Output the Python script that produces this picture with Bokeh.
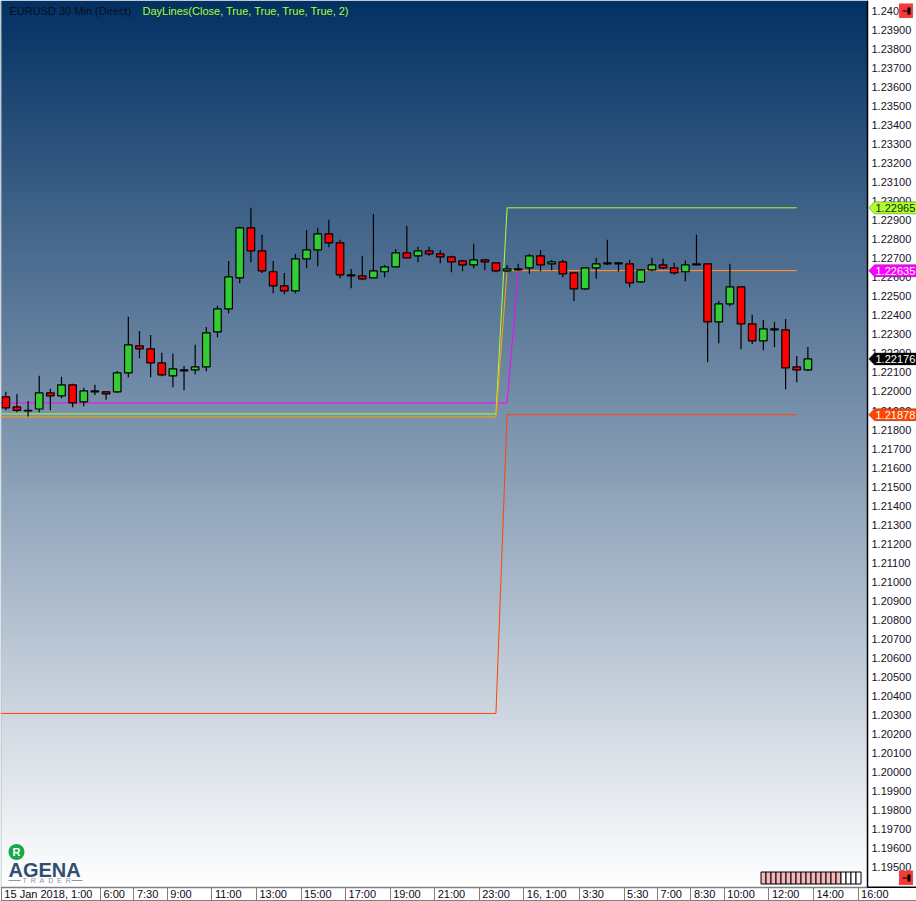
import numpy as np
from bokeh.plotting import figure
from bokeh.embed import file_html
from bokeh.resources import INLINE
from bokeh.models import (Label, BoxAnnotation, PolyAnnotation, FixedTicker, LinearAxis,
                          NumeralTickFormatter, Range1d)

FONT = "Liberation Sans"

high = [1.21998,1.21987,1.21950,1.22082,1.22014,1.22077,1.22040,1.22019,1.22035,1.22003,
        1.22108,1.22392,1.22318,1.22297,1.22203,1.22198,1.22134,1.22245,1.22339,1.22450,
        1.22686,1.22867,1.22965,1.22823,1.22686,1.22623,1.22723,1.22849,1.22860,1.22902,
        1.22797,1.22643,1.22713,1.22933,1.22665,1.22749,1.22870,1.22760,1.22760,1.22742,
        1.22713,1.22692,1.22776,1.22692,1.22676,1.22665,1.22671,1.22723,1.22744,1.22692,
        1.22692,1.22623,1.22650,1.22702,1.22797,1.22679,1.22692,1.22643,1.22702,1.22697,
        1.22676,1.22688,1.22823,1.22671,1.22476,1.22671,1.22550,1.22403,1.22376,1.22366,
        1.22381,1.22187,1.22234]
low = [1.21901,1.21891,1.21868,1.21891,1.21901,1.21965,1.21917,1.21922,1.21982,1.21956,
       1.21993,1.22075,1.22175,1.22075,1.22080,1.22022,1.22007,1.22091,1.22106,1.22285,
       1.22411,1.22569,1.22679,1.22623,1.22516,1.22511,1.22516,1.22648,1.22658,1.22758,
       1.22595,1.22543,1.22585,1.22595,1.22600,1.22653,1.22700,1.22679,1.22713,1.22674,
       1.22627,1.22632,1.22648,1.22637,1.22627,1.22627,1.22634,1.22618,1.22632,1.22637,
       1.22600,1.22476,1.22534,1.22592,1.22665,1.22630,1.22548,1.22571,1.22632,1.22643,
       1.22613,1.22579,1.22664,1.22154,1.22254,1.22448,1.22222,1.22250,1.22217,1.22233,
       1.22012,1.22049,1.22108]
opens = [1.21972,1.21919,1.21898,1.21908,1.21993,1.21977,1.22035,1.21945,1.21998,1.21998,
         1.21998,1.22098,1.22240,1.22224,1.22150,1.22082,1.22108,1.22113,1.22129,1.22313,
         1.22434,1.22597,1.22860,1.22739,1.22629,1.22555,1.22529,1.22697,1.22744,1.22828,
         1.22781,1.22607,1.22607,1.22597,1.22629,1.22655,1.22728,1.22713,1.22739,1.22723,
         1.22707,1.22686,1.22665,1.22692,1.22676,1.22634,1.22639,1.22650,1.22713,1.22671,
         1.22681,1.22623,1.22539,1.22650,1.22671,1.22671,1.22671,1.22576,1.22639,1.22665,
         1.22650,1.22629,1.22665,1.22671,1.22366,1.22460,1.22550,1.22355,1.22266,1.22324,
         1.22324,1.22129,1.22113]
closes = [1.21914,1.21901,1.21901,1.21993,1.21977,1.22035,1.21940,1.22003,1.22003,1.21987,
          1.22098,1.22245,1.22224,1.22150,1.22087,1.22119,1.22113,1.22129,1.22308,1.22434,
          1.22602,1.22860,1.22739,1.22634,1.22555,1.22529,1.22697,1.22744,1.22828,1.22781,
          1.22613,1.22613,1.22592,1.22634,1.22655,1.22728,1.22702,1.22739,1.22723,1.22707,
          1.22681,1.22665,1.22692,1.22681,1.22634,1.22644,1.22644,1.22713,1.22665,1.22681,
          1.22618,1.22539,1.22650,1.22671,1.22676,1.22676,1.22571,1.22639,1.22665,1.22650,
          1.22623,1.22665,1.22671,1.22366,1.22460,1.22550,1.22355,1.22266,1.22329,1.22329,
          1.22124,1.22113,1.22171]

hi_x = [-1, 44, 45, 71]
hi_y = [1.21882, 1.21882, 1.22965, 1.22965]
lo_x = [-1, 44, 45, 71]
lo_y = [1.20308, 1.20308, 1.21878, 1.21878]
mid_x = [-1, 45, 46, 71]
mid_y = [1.21940, 1.21940, 1.22635, 1.22635]
cl_x = [-1, 44, 45, 71]
cl_y = [1.21866, 1.21866, 1.22635, 1.22635]

y_ticks = [1.195,1.196,1.197,1.198,1.199,1.200,1.201,1.202,1.203,1.204,1.205,1.206,1.207,1.208,
           1.209,1.210,1.211,1.212,1.213,1.214,1.215,1.216,1.217,1.218,1.219,1.220,1.221,1.222,
           1.223,1.224,1.225,1.226,1.227,1.228,1.229,1.230,1.231,1.232,1.233,1.234,1.235,1.236,
           1.237,1.238,1.239,1.240]
x_ticks = [-0.4,8.5,11.5,14.5,18.5,22.5,26.5,30.5,34.5,38.5,42.5,46.5,51.5,55.5,58.5,61.5,64.5,68.5,72.5,76.5]
x_labels = ["15 Jan 2018, 1:00","6:00","7:30","9:00","11:00","13:00","15:00","17:00","19:00","21:00",
            "23:00","16, 1:00","3:30","5:30","7:00","8:30","10:00","12:00","14:00","16:00"]
tags = [(1.22965, "#ADFF2F", "#1a2a00", "1.22965"),
        (1.22635, "#FF00FF", "#FFFFFF", "1.22635"),
        (1.22171, "#000000", "#FFFFFF", "1.22176"),
        (1.21878, "#FF4500", "#FFFFFF", "1.21878")]

Y1 = 1.240545
K = 0.046558 / 886
def X(px): return (px - 5.3) / 11.14
def Y(py): return Y1 - py * K

p = figure(width=916, height=901, output_backend="svg", toolbar_location=None,
           x_range=Range1d(X(0), X(916)), y_range=Range1d(Y(901), Y(0)),
           x_axis_type=None, y_axis_type=None,
           min_border_left=0, min_border_top=0, min_border_right=0, min_border_bottom=0,
           border_fill_color="white", background_fill_color="white", outline_line_color=None)
p.grid.visible = False

# background gradient
n = 886
img = np.zeros((n, 1, 4), dtype=np.uint8)
top, bot = np.array([3, 49, 99.]), np.array([255, 255, 255.])
for r in range(n):
    t = (n - 1 - r) / (n - 1)
    img[r, 0, :3] = (top + (bot - top) * t).astype(np.uint8)
    img[r, 0, 3] = 255
p.image_rgba(image=[img.view(np.uint32).reshape(n, 1)], x=X(0), y=Y(886), dw=X(867) - X(0), dh=Y(0) - Y(886))

# indicator lines
p.line(lo_x, lo_y, line_color="#FF4500", line_width=1)
p.line(mid_x, mid_y, line_color="#FF00FF", line_width=1)
p.line(hi_x, hi_y, line_color="#ADFF2F", line_width=1)
p.line(cl_x, cl_y, line_color="#FFA500", line_width=1)

# candles
idx = list(range(len(high)))
tops = [max(a, b) for a, b in zip(opens, closes)]
bots = [min(a, b) for a, b in zip(opens, closes)]
cols = ["#32CD32" if c >= o else "#FF0000" for o, c in zip(opens, closes)]
p.segment(idx, high, idx, low, line_color="black", line_width=1.2)
p.vbar(x=idx, width=0.68, top=tops, bottom=bots, fill_color=cols, line_color="black", line_width=1.2)

# progress bar
for i in range(20):
    p.quad(left=X(760.5 + 5 * i), right=X(765.5 + 5 * i), top=Y(871.5), bottom=Y(883.5),
           fill_color="#F5B7BA" if i < 16 else "white", line_color="black", line_width=1)

# logo: badge and rules beside the small word
p.scatter([X(16)], [Y(851.5)], size=16, marker="circle", fill_color="#16A84A", line_color=None)
p.quad(left=[X(8), X(71)], right=[X(20), X(82)], top=[Y(879.5)] * 2, bottom=[Y(880.5)] * 2,
       fill_color="#8f969c", line_color=None)

# y axis
ax = LinearAxis(fixed_location=X(867), bounds=(Y(887), Y(0)))
ax.ticker = FixedTicker(ticks=y_ticks)
ax.formatter = NumeralTickFormatter(format="0.00000")
ax.major_label_overrides = {1.24: "1.240"}
ax.major_tick_line_color = None
ax.minor_tick_line_color = None
ax.major_tick_out = 0
ax.major_tick_in = 0
ax.major_label_standoff = 4
ax.axis_line_color = "black"
ax.axis_line_width = 1.5
ax.major_label_text_font = FONT
ax.major_label_text_font_size = "11px"
ax.major_label_text_color = "#16102a"
p.add_layout(ax, "right")

# x axis: cell separators
bx = LinearAxis(fixed_location=Y(886.5), bounds=(X(0), X(867)))
bx.ticker = FixedTicker(ticks=x_ticks)
bx.major_label_overrides = {t: "" for t in x_ticks}
bx.major_tick_line_color = "#808080"
bx.major_tick_in = 0
bx.major_tick_out = 14
bx.minor_tick_line_color = None
bx.axis_line_color = "#808080"
bx.axis_line_width = 1.5
p.add_layout(bx, "below")

def txt(x, y, s, color, size="11px", style="normal", x_offset=0, align="left", font=FONT):
    p.add_layout(Label(x=x, y=y, text=s, text_color=color, text_font=font, text_font_size=size,
                       text_font_style=style, text_baseline="middle", text_align=align,
                       x_offset=x_offset))

for t, s in zip(x_ticks, x_labels):
    txt(t, Y(893.5), s, "#0a0820", x_offset=3)

# title
txt(X(9), Y(10), "EURUSD 30 Min (Direct)", "#06101c")
txt(X(142), Y(10), "DayLines(Close, True, True, True, True, 2)", "#ADFF2F")

# logo text
txt(X(8), Y(869.5), "AGENA", "#2F4F72", size="20px", style="bold")
txt(X(22), Y(880), "T\u00a0\u00a0R\u00a0\u00a0A\u00a0\u00a0D\u00a0\u00a0E\u00a0\u00a0R", "#8a929a", size="7px")
txt(X(16), Y(851.5), "R", "white", size="11px", style="bold", align="center")

# price tags
for price, fill, tcol, s in tags:
    py = (Y1 - price) / K
    p.add_layout(PolyAnnotation(
        xs=[X(868.3), X(874), X(916), X(916), X(874)],
        ys=[Y(py), Y(py - 6), Y(py - 6), Y(py + 6), Y(py + 6)],
        fill_color=fill, fill_alpha=1, line_color="black", line_width=1))
    txt(X(875), Y(py + 0.5), s, tcol)

# pin buttons
for y0 in (3, 870):
    p.add_layout(BoxAnnotation(left=X(898.5), right=X(912.5), top=Y(y0), bottom=Y(y0 + 14.5),
                               fill_color="#F53838", fill_alpha=1, line_color="#c9a7a7", line_width=1))
    p.add_layout(BoxAnnotation(left=X(902), right=X(907), top=Y(y0 + 7), bottom=Y(y0 + 8),
                               fill_color="black", fill_alpha=1, line_color=None))
    p.add_layout(BoxAnnotation(left=X(907), right=X(910), top=Y(y0 + 4), bottom=Y(y0 + 11),
                               fill_color="black", fill_alpha=1, line_color=None))

# borders
p.add_layout(BoxAnnotation(left=X(867), right=X(916), top=Y(886), bottom=Y(887.5),
                           fill_color="black", fill_alpha=1, line_color=None))
p.add_layout(BoxAnnotation(left=X(0), right=X(916), top=Y(899.5), bottom=Y(901),
                           fill_color="#808080", fill_alpha=1, line_color=None))
p.add_layout(BoxAnnotation(left=X(0), right=X(1), top=Y(0), bottom=Y(886),
                           fill_color="#B8BEC4", fill_alpha=1, line_color=None))

open("out.html", "w").write(file_html(p, INLINE))
